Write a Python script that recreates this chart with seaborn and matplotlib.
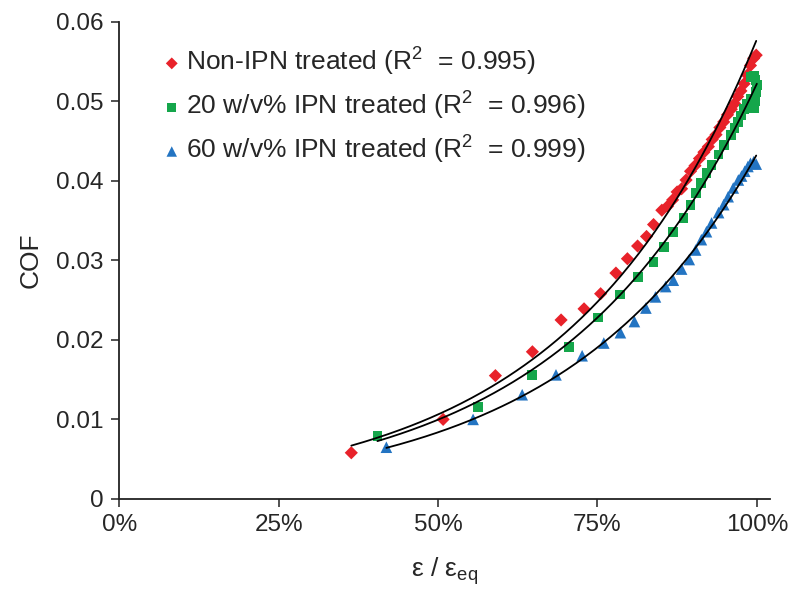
import numpy as np
import pandas as pd
import matplotlib
matplotlib.use("Agg")
import matplotlib.pyplot as plt
from matplotlib.ticker import FuncFormatter
import seaborn as sns

# strain ratio (eps / eps_eq) and COF for each sample
red_x = [0.364, 0.508, 0.590, 0.648, 0.693, 0.729, 0.755, 0.779, 0.797, 0.813, 0.827,
         0.838, 0.851, 0.860, 0.868, 0.875, 0.882, 0.889, 0.896, 0.903, 0.910, 0.917,
         0.924, 0.930, 0.936, 0.942, 0.948, 0.954, 0.960, 0.965, 0.970, 0.975, 0.980,
         0.985, 0.990, 0.995, 0.999]
red_y = [0.0058, 0.0100, 0.0155, 0.0185, 0.0225, 0.0239, 0.0258, 0.0284, 0.0302, 0.0318, 0.0330,
         0.0345, 0.0363, 0.0368, 0.0376, 0.0386, 0.0390, 0.0401, 0.0412, 0.0419, 0.0428, 0.0436,
         0.0443, 0.0452, 0.0458, 0.0467, 0.0474, 0.0483, 0.0490, 0.0497, 0.0506, 0.0513, 0.0522,
         0.0533, 0.0545, 0.0554, 0.0558]

green_x = [0.405, 0.563, 0.648, 0.705, 0.751, 0.786, 0.813, 0.838, 0.854, 0.869, 0.885,
           0.896, 0.904, 0.913, 0.921, 0.929, 0.940, 0.948, 0.959, 0.965, 0.970, 0.975,
           0.980, 0.985, 0.990, 0.995, 0.998, 0.999, 1.000, 0.998, 0.995, 0.990]
green_y = [0.0079, 0.0116, 0.0156, 0.0191, 0.0228, 0.0257, 0.0279, 0.0298, 0.0317, 0.0336, 0.0353,
           0.0370, 0.0385, 0.0397, 0.0410, 0.0420, 0.0433, 0.0445, 0.0458, 0.0466, 0.0474, 0.0482,
           0.0490, 0.0497, 0.0503, 0.0492, 0.0500, 0.0512, 0.0520, 0.0527, 0.0532, 0.0531]

blue_x = [0.419, 0.555, 0.632, 0.685, 0.726, 0.760, 0.786, 0.808, 0.826, 0.841, 0.857,
          0.869, 0.882, 0.894, 0.904, 0.913, 0.921, 0.929, 0.940, 0.948, 0.955, 0.963,
          0.971, 0.976, 0.981, 0.986, 0.990, 0.995, 0.999]
blue_y = [0.0065, 0.0100, 0.0131, 0.0156, 0.0180, 0.0196, 0.0209, 0.0223, 0.0240, 0.0254, 0.0267,
          0.0275, 0.0289, 0.0301, 0.0313, 0.0326, 0.0336, 0.0347, 0.0360, 0.0370, 0.0380, 0.0391,
          0.0401, 0.0406, 0.0412, 0.0418, 0.0422, 0.0424, 0.0421]

labels = ["Non-IPN treated (R$^2$  = 0.995)",
          "20 w/v% IPN treated (R$^2$  = 0.996)",
          "60 w/v% IPN treated (R$^2$  = 0.999)"]
colors = ["#E8222A", "#15A64B", "#2374C2"]
markers = ["D", "s", "^"]
sizes = [45, 50, 70]

frames = []
for lab, xs, ys in zip(labels, [red_x, green_x, blue_x], [red_y, green_y, blue_y]):
    frames.append(pd.DataFrame({"strain": xs, "cof": ys, "series": lab}))
df = pd.concat(frames, ignore_index=True)

sns.set_style("ticks")
plt.rcParams["font.family"] = ["Liberation Sans", "DejaVu Sans"]
plt.rcParams["mathtext.fontset"] = "custom"
plt.rcParams["mathtext.rm"] = "Liberation Sans"
plt.rcParams["mathtext.it"] = "Liberation Sans:italic"

fig = plt.figure(figsize=(8, 6.04), dpi=100)
ax = fig.add_axes([0.149, 0.174, 0.813, 0.79])

for lab, col, mk, sz in zip(labels, colors, markers, sizes):
    sub = df[df["series"] == lab]
    sns.scatterplot(data=sub, x="strain", y="cof", color=col, marker=mk, s=sz,
                    edgecolor="none", label=lab, ax=ax, zorder=2)

# exponential trendlines (Excel style) fitted on the points
for lab in labels:
    sub = df[df["series"] == lab]
    b, a = np.polyfit(sub["strain"], np.log(sub["cof"]), 1)
    xf = np.linspace(sub["strain"].min(), sub["strain"].max(), 200)
    fit = pd.DataFrame({"strain": xf, "cof": np.exp(a) * np.exp(b * xf)})
    sns.lineplot(data=fit, x="strain", y="cof", color="black", lw=1.3, ax=ax,
                 legend=False, zorder=3)

ax.set_xlim(0, 1.02)
ax.set_ylim(0, 0.06)
ax.set_xticks([0, 0.25, 0.5, 0.75, 1.0])
ax.set_yticks([0, 0.01, 0.02, 0.03, 0.04, 0.05, 0.06])
ax.xaxis.set_major_formatter(FuncFormatter(lambda v, p: f"{v*100:.0f}%"))
ax.yaxis.set_major_formatter(FuncFormatter(lambda v, p: "0" if v == 0 else f"{v:.2f}"))
ax.tick_params(labelsize=17.5, length=6, width=1.1, color="#222222", pad=5)
sns.despine(ax=ax)
for s in ["left", "bottom"]:
    ax.spines[s].set_linewidth(1.3)
    ax.spines[s].set_color("#222222")

ax.set_xlabel("ε / ε$_{\\mathrm{eq}}$", fontsize=19, labelpad=14)
ax.set_ylabel("COF", fontsize=19, labelpad=10)

ax.legend(loc="upper left", bbox_to_anchor=(0.024, 1.0), frameon=False, fontsize=19,
          handletextpad=0.05, labelspacing=0.45, borderaxespad=0.5, markerscale=0.9,
          handlelength=1.0)

plt.savefig("out.png", dpi=100)
plt.close()
